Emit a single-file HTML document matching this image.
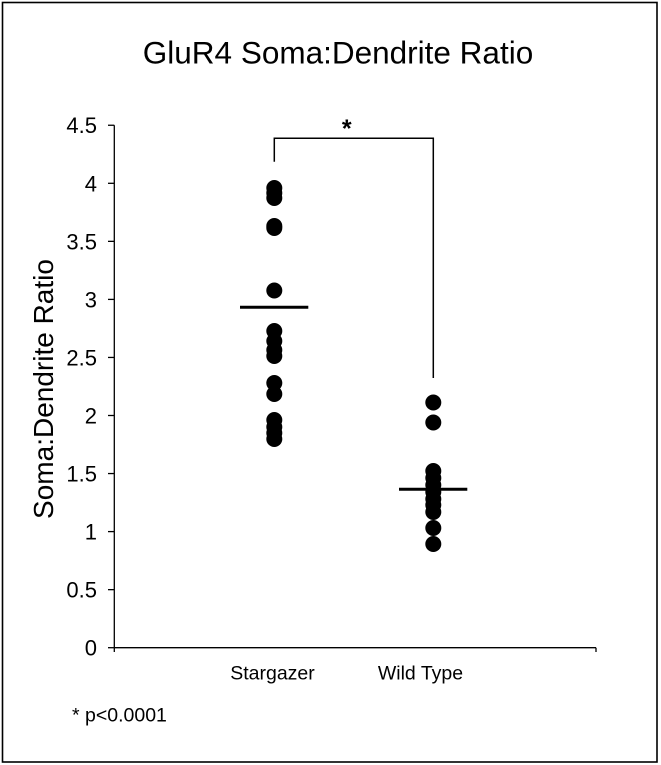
<!DOCTYPE html>
<html>
<head>
<meta charset="utf-8">
<style>
  html, body { margin:0; padding:0; background:#fff; }
  body { width:661px; height:765px; overflow:hidden; }
  svg { display:block; }
  text { font-family: "Liberation Sans", Arial, sans-serif; fill:#000; }
</style>
</head>
<body>
<svg width="661" height="765" viewBox="0 0 661 765" xmlns="http://www.w3.org/2000/svg">
  <rect x="0" y="0" width="661" height="765" fill="#fff"/>
  <!-- frame -->
  <rect x="2.5" y="2.5" width="654.5" height="759.5" fill="none" stroke="#000" stroke-width="1.6"/>

  <!-- title -->
  <text x="338" y="63.5" font-size="31.5" text-anchor="middle">GluR4 Soma:Dendrite Ratio</text>

  <!-- y axis label -->
  <text transform="translate(53,389) rotate(-90)" font-size="28" text-anchor="middle">Soma:Dendrite Ratio</text>

  <!-- axes -->
  <g stroke="#000" stroke-width="1.3" fill="none">
    <line x1="114.3" y1="125.2" x2="114.3" y2="652"/>
    <line x1="114.3" y1="647.7" x2="596" y2="647.7"/>
    <line x1="596" y1="647.7" x2="596" y2="652"/>
    <!-- y ticks -->
    <line x1="108" y1="125.25" x2="114.3" y2="125.25"/>
    <line x1="108" y1="183.3" x2="114.3" y2="183.3"/>
    <line x1="108" y1="241.35" x2="114.3" y2="241.35"/>
    <line x1="108" y1="299.4" x2="114.3" y2="299.4"/>
    <line x1="108" y1="357.45" x2="114.3" y2="357.45"/>
    <line x1="108" y1="415.5" x2="114.3" y2="415.5"/>
    <line x1="108" y1="473.55" x2="114.3" y2="473.55"/>
    <line x1="108" y1="531.6" x2="114.3" y2="531.6"/>
    <line x1="108" y1="589.65" x2="114.3" y2="589.65"/>
    <line x1="108" y1="647.7" x2="114.3" y2="647.7"/>
  </g>

  <!-- y tick labels -->
  <g font-size="22" text-anchor="end">
    <text x="97" y="133.2">4.5</text>
    <text x="97" y="191.3">4</text>
    <text x="97" y="249.3">3.5</text>
    <text x="97" y="307.4">3</text>
    <text x="97" y="365.4">2.5</text>
    <text x="97" y="423.5">2</text>
    <text x="97" y="481.5">1.5</text>
    <text x="97" y="539.6">1</text>
    <text x="97" y="597.6">0.5</text>
    <text x="97" y="655.7">0</text>
  </g>

  <!-- x labels -->
  <text x="272.5" y="679.3" font-size="19.5" text-anchor="middle">Stargazer</text>
  <text x="420.5" y="679.3" font-size="19.5" text-anchor="middle">Wild Type</text>

  <!-- footnote -->
  <text x="72" y="721.7" font-size="19.5">* p&lt;0.0001</text>

  <!-- significance bracket -->
  <polyline points="274.3,161.7 274.3,138.3 433.3,138.3 433.3,378" fill="none" stroke="#000" stroke-width="1.5"/>
  <text x="346.7" y="137" font-size="25" font-weight="bold" text-anchor="middle">*</text>

  <!-- Stargazer dots -->
  <g fill="#000">
    <circle cx="274.3" cy="188" r="8"/>
    <circle cx="274.3" cy="193" r="8"/>
    <circle cx="274.3" cy="198" r="8"/>
    <circle cx="274.3" cy="226" r="8"/>
    <circle cx="274.3" cy="228" r="8"/>
    <circle cx="274.3" cy="290.5" r="8"/>
    <circle cx="274.3" cy="331" r="8"/>
    <circle cx="274.3" cy="341" r="8"/>
    <circle cx="274.3" cy="350" r="8"/>
    <circle cx="274.3" cy="356" r="8"/>
    <circle cx="274.3" cy="383" r="8"/>
    <circle cx="274.3" cy="394" r="8"/>
    <circle cx="274.3" cy="420" r="8"/>
    <circle cx="274.3" cy="427" r="8"/>
    <circle cx="274.3" cy="433" r="8"/>
    <circle cx="274.3" cy="439" r="8"/>
  </g>
  <line x1="240" y1="307.3" x2="308.3" y2="307.3" stroke="#000" stroke-width="3"/>

  <!-- Wild type dots -->
  <g fill="#000">
    <circle cx="433.3" cy="402.5" r="8"/>
    <circle cx="433.3" cy="422.5" r="8"/>
    <circle cx="433.3" cy="471" r="8"/>
    <circle cx="433.3" cy="478" r="8"/>
    <circle cx="433.3" cy="485" r="8"/>
    <circle cx="433.3" cy="492" r="8"/>
    <circle cx="433.3" cy="499" r="8"/>
    <circle cx="433.3" cy="505" r="8"/>
    <circle cx="433.3" cy="512" r="8"/>
    <circle cx="433.3" cy="528" r="8"/>
    <circle cx="433.3" cy="544" r="8"/>
  </g>
  <line x1="399" y1="489.3" x2="467.3" y2="489.3" stroke="#000" stroke-width="3"/>
</svg>
</body>
</html>
